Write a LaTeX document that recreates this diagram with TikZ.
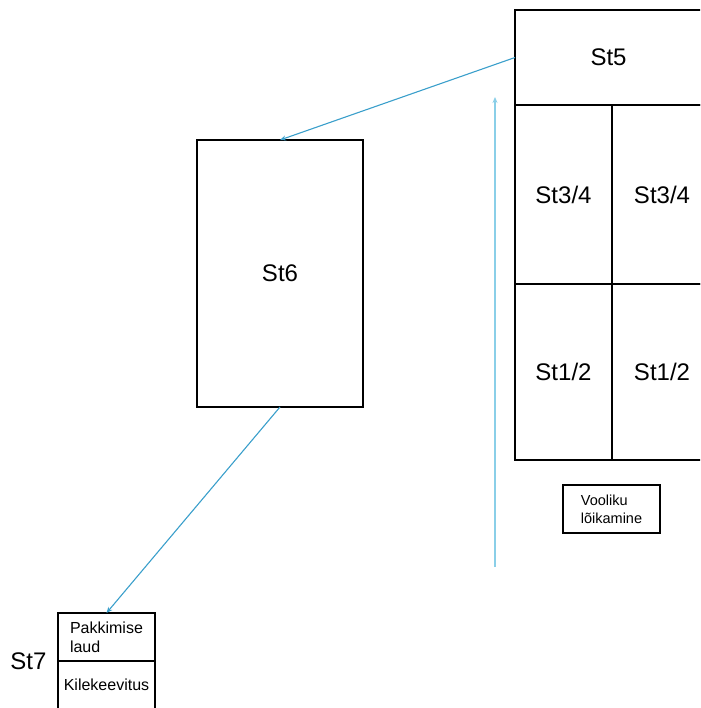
\documentclass[tikz,border=0pt]{standalone}
\usepackage{fontspec}
\setmainfont{Liberation Sans}
\usetikzlibrary{arrows.meta, positioning}
\definecolor{flow}{HTML}{3A9FCB}
\definecolor{flowlight}{HTML}{8ACFE8}

\begin{document}
\begin{tikzpicture}[x=1pt, y=-1pt, font=\fontsize{24}{28}\selectfont,
      box/.style={draw=black, line width=1.6pt, inner sep=0pt, outer sep=0pt, align=center},
      cell/.style={box, minimum width=97pt, minimum height=179pt},
      small/.style={box, font=\fontsize{16}{19}\selectfont, align=left, minimum width=97pt, minimum height=48pt},
      flowarrow/.style={-{Stealth[length=6pt, width=5pt]}, draw=flow, line width=1.1pt}]
    \useasboundingbox (0,0) rectangle (700,708);
    \clip (0,0) rectangle (700,708);
    % cutting area, right block
    \node[box, anchor=north west, minimum width=187pt, minimum height=95pt] (st5) at (515,10) {St5};
    \node[cell, below right=0pt and 0pt of st5.south west] (st34a) {St3/4};
    \node[cell, right=0pt of st34a, minimum width=100pt] (st34b) {St3/4};
    \node[cell, below=0pt of st34a, minimum height=176pt] (st12a) {St1/2};
    \node[cell, right=0pt of st12a, minimum width=100pt, minimum height=176pt] (st12b) {St1/2};
    \node[small, font=\fontsize{14.5}{18}\selectfont, minimum width=97pt, minimum height=48pt, anchor=north west] (cut) at (563,485) {Vooliku\\lõikamine};
    % St6
    \node[box, anchor=north west, minimum width=166pt, minimum height=267pt] (st6) at (197,140) {St6};
    % St7 packing
    \node[small, anchor=north west, text width=73pt, minimum width=97pt] (pack) at (58,613) {Pakkimise\\laud};
    \node[small, below=0pt of pack, align=center] (foil) {Kilekeevitus};
    \node[left=8pt of pack.south west] (st7) {St7};
    % flow
    \coordinate (flowstart) at (495,567);
    \coordinate (flowend) at (495,97);
    \draw[flowarrow, draw=flowlight] (flowstart) -- (flowend);
    \draw[flowarrow] (st5.west) -- (st6.north);
    \draw[flowarrow] (st6.south) -- (pack.north);
  \end{tikzpicture}
\end{document}
